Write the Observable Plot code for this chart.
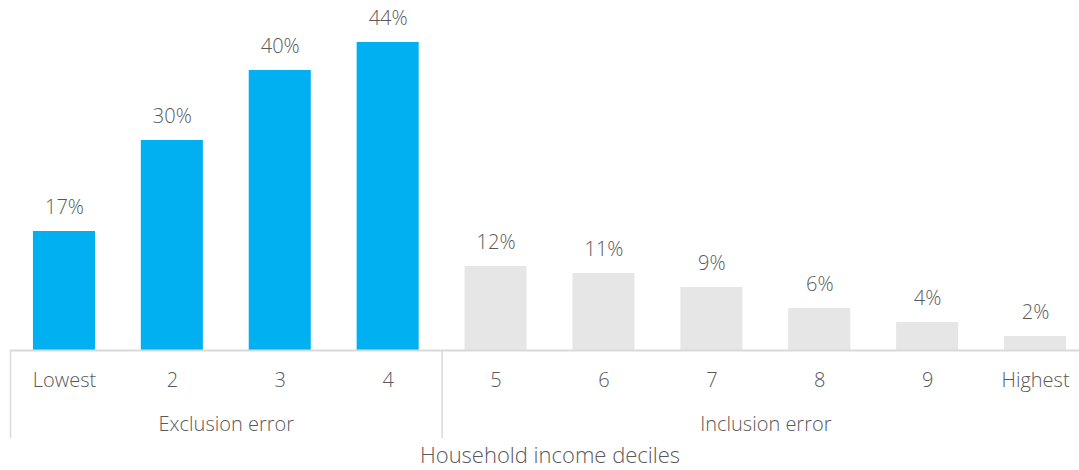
<!DOCTYPE html>
<html>
<head>
<meta charset="utf-8">
<script src="https://cdn.jsdelivr.net/npm/d3@7"></script>
<script src="https://cdn.jsdelivr.net/npm/@observablehq/plot@0.6"></script>
<style>
  html, body { margin: 0; padding: 0; background: #fff; }
  #chart { width: 1079px; height: 470px; overflow: hidden; }
</style>
</head>
<body>
<div id="chart"></div>
<script>
const deciles = ["Lowest", "2", "3", "4", "5", "6", "7", "8", "9", "Highest"];
const values = [17, 30, 40, 44, 12, 11, 9, 6, 4, 2];
const groupOf = ["Exclusion error", "Exclusion error", "Exclusion error", "Exclusion error",
  "Inclusion error", "Inclusion error", "Inclusion error", "Inclusion error", "Inclusion error", "Inclusion error"];
const groupLabels = ["Exclusion error", "Inclusion error"];
const groupCenterDecile = ["2", "7"];   // group label sits between this decile and the next
const groupStartDecile = ["Lowest", "5"];
const axisTitle = "Household income deciles";

const data = deciles.map((d, i) => ({decile: d, value: values[i], group: groupOf[i]}));
const groups = groupLabels.map((g, i) => ({label: g, center: groupCenterDecile[i], start: groupStartDecile[i]}));

const halfStep = 1079 / 10 / 2;
const textColor = "#595959";
const font = "Open Sans, Segoe UI, sans-serif";
const fw = 300;

const chart = Plot.plot({
  width: 1079,
  height: 470,
  marginTop: 0,
  marginBottom: 120,
  marginLeft: 10,
  marginRight: 0,
  style: {fontFamily: font, background: "#fff", overflow: "visible"},
  x: {domain: deciles, range: [10, 1089], paddingInner: 0.425, paddingOuter: 0.2125, align: 0.5, round: false, axis: null},
  y: {domain: [0, 50], range: [350, 0], axis: null},
  marks: [
    Plot.barY(data.filter(d => d.group === "Exclusion error"), {x: "decile", y: "value", fill: "#00B0F0"}),
    Plot.barY(data.filter(d => d.group === "Inclusion error"), {x: "decile", y: "value", fill: "#E6E6E6"}),
    Plot.ruleY([0], {stroke: "#D9D9D9", strokeWidth: 2}),
    Plot.ruleX(groups, {x: "start", dx: -halfStep, y1: 0, y2: -12.6, stroke: "#D9D9D9", strokeWidth: 1.5}),
    Plot.text(data, {x: "decile", y: "value", text: d => d.value + "%", dy: -24, lineAnchor: "middle", fontSize: 20, fontWeight: fw, fill: textColor, fontFamily: font}),
    Plot.text(data, {x: "decile", text: "decile", frameAnchor: "bottom", lineAnchor: "middle", dy: 30.5, fontSize: 20, fontWeight: fw, fill: textColor, fontFamily: font}),
    Plot.text(groups, {x: "center", text: "label", dx: halfStep, frameAnchor: "bottom", lineAnchor: "middle", dy: 74, fontSize: 20, fontWeight: fw, fill: textColor, fontFamily: font}),
    Plot.text([axisTitle], {x: () => "5", text: d => d, dx: halfStep, frameAnchor: "bottom", lineAnchor: "middle", dy: 105.5, fontSize: 22, fontWeight: fw, fill: textColor, fontFamily: font})
  ]
});
document.getElementById("chart").appendChild(chart);
</script>
</body>
</html>
